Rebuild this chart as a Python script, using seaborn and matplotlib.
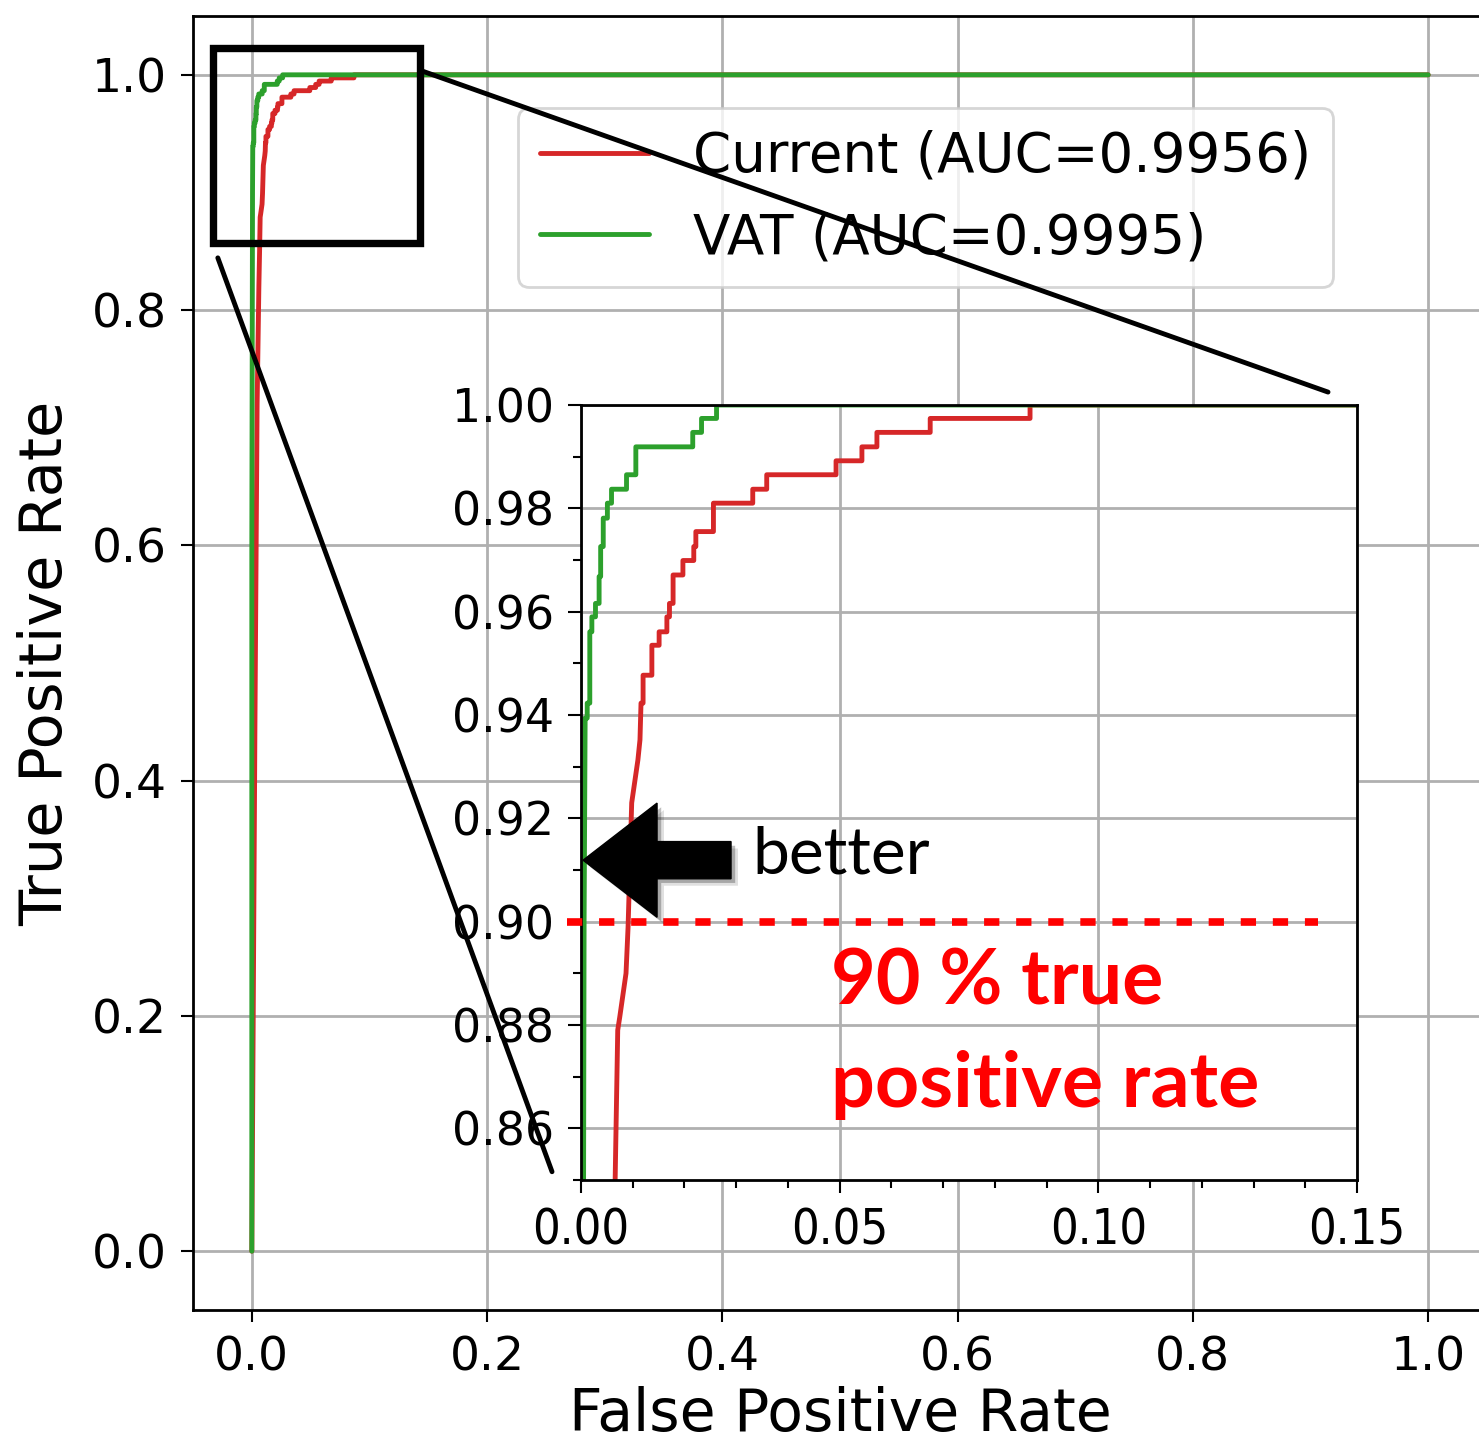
import numpy as np
import pandas as pd
import matplotlib
matplotlib.use("Agg")
import matplotlib.pyplot as plt
import seaborn as sns
from matplotlib.patches import Rectangle, FancyArrow, ConnectionPatch
from matplotlib.ticker import MultipleLocator
import matplotlib.patheffects as pe

# ---------------- data (ROC vertices) ----------------
current_fpr = [0.0, 0.0012, 0.0026, 0.0045, 0.0060, 0.0066, 0.0071, 0.0075, 0.0087, 0.0091,
               0.0098, 0.0110, 0.0114, 0.0116, 0.0120, 0.0120, 0.0137, 0.0137, 0.0151, 0.0151,
               0.0166, 0.0166, 0.0171, 0.0171, 0.0178, 0.0178, 0.0197, 0.0197, 0.0218, 0.0218,
               0.0222, 0.0222, 0.0256, 0.0256, 0.0332, 0.0332, 0.0359, 0.0359, 0.0493, 0.0493,
               0.0543, 0.0543, 0.0572, 0.0572, 0.0675, 0.0675, 0.0868, 0.0868, 1.0]
current_tpr = [0.0, 0.20, 0.44, 0.72, 0.82, 0.850, 0.879, 0.8816, 0.890, 0.899,
               0.923, 0.9313, 0.9352, 0.9423, 0.9423, 0.9477, 0.9477, 0.9535, 0.9535, 0.9561,
               0.9561, 0.9590, 0.9590, 0.9616, 0.9616, 0.9671, 0.9671, 0.9699, 0.9699, 0.9726,
               0.9726, 0.9755, 0.9755, 0.9810, 0.9810, 0.9837, 0.9837, 0.9865, 0.9865, 0.9892,
               0.9892, 0.9919, 0.9919, 0.9947, 0.9947, 0.9974, 0.9974, 1.0, 1.0]

vat_fpr = [0.0, 0.0, 0.0005, 0.0006, 0.0008, 0.0012, 0.0012, 0.0017, 0.0017, 0.0021,
           0.0021, 0.0028, 0.0028, 0.0035, 0.0035, 0.0038, 0.0038, 0.0043, 0.0043, 0.0051,
           0.0051, 0.0059, 0.0059, 0.0088, 0.0088, 0.0106, 0.0106, 0.0216, 0.0216, 0.0233,
           0.0233, 0.0262, 0.0262, 1.0]
vat_tpr = [0.0, 0.60, 0.850, 0.900, 0.9394, 0.9394, 0.9423, 0.9423, 0.9561, 0.9561,
           0.9590, 0.9590, 0.9616, 0.9616, 0.9668, 0.9668, 0.9726, 0.9726, 0.9781, 0.9781,
           0.9810, 0.9810, 0.9837, 0.9837, 0.9865, 0.9865, 0.9919, 0.9919, 0.9947, 0.9947,
           0.9974, 0.9974, 1.0, 1.0]

model_names = ["Current", "VAT"]
auc_values = [0.9956, 0.9995]
model_colors = ["#d62728", "#2ca02c"]
main_ticks = [0.0, 0.2, 0.4, 0.6, 0.8, 1.0]
inset_xticks = [0.00, 0.05, 0.10, 0.15]
inset_xlabels = ["0.00", "0.05", "0.10", "0.15"]
inset_yticks = [0.86, 0.88, 0.90, 0.92, 0.94, 0.96, 0.98, 1.00]
inset_ylabels = ["0.86", "0.88", "0.90", "0.92", "0.94", "0.96", "0.98", "1.00"]
threshold_tpr = 0.90

df = pd.concat([
    pd.DataFrame({"fpr": current_fpr, "tpr": current_tpr, "model": "Current"}),
    pd.DataFrame({"fpr": vat_fpr, "tpr": vat_tpr, "model": "VAT"}),
], ignore_index=True)

# ---------------- style ----------------
sns.set_theme(style="ticks")
plt.rcParams.update({
    "font.family": ["DejaVu Sans"],
    "text.color": "black",
    "axes.labelcolor": "black",
    "axes.edgecolor": "black",
    "axes.linewidth": 2.0,
    "grid.color": "#b0b0b0",
    "grid.linewidth": 2.0,
    "xtick.color": "black",
    "ytick.color": "black",
    "xtick.labelcolor": "black",
    "ytick.labelcolor": "black",
    "legend.labelcolor": "black",
    "xtick.direction": "out",
    "ytick.direction": "out",
})

W, H = 1479, 1445
fig = plt.figure(figsize=(W / 100, H / 100), dpi=100)
fig.patch.set_facecolor("white")

# ---------------- main axes ----------------
ax = fig.add_axes([193 / W, (H - 1310) / H, 1294 / W, 1294 / H])
sns.lineplot(data=df, x="fpr", y="tpr", hue="model", hue_order=model_names,
             palette=model_colors, estimator=None, sort=False, lw=3.5,
             legend=False, ax=ax)
ax.set_xlim(-0.05, 1.05)
ax.set_ylim(-0.05, 1.05)
ax.set_xticks(main_ticks)
ax.set_yticks(main_ticks)
ax.grid(True, zorder=0)
ax.set_axisbelow(True)
ax.tick_params(axis="both", labelsize=34, length=8.5, width=1.5, pad=10)
ax.set_xlabel("False Positive Rate", fontsize=42, labelpad=4, color="black")
ax.set_ylabel("True Positive Rate", fontsize=42.5, labelpad=13, color="black")

handles = ax.get_lines()[:2]
labels = [f"{n} (AUC={a:.4f})" for n, a in zip(model_names, auc_values)]
leg = ax.legend(handles, labels, loc="upper left", bbox_to_anchor=(0.2512, 0.9289),
                borderaxespad=0, fontsize=39.3, frameon=True, fancybox=True,
                framealpha=0.8, edgecolor="0.8")
leg.get_frame().set_linewidth(2.0)
for t in leg.get_texts():
    t.set_color("black")

# zoom rectangle on main axes
rect = Rectangle((-0.0326, 0.8571), 0.1752, 0.1656, fill=False, ec="black",
                 lw=5.3, clip_on=False, zorder=10)
ax.add_patch(rect)

# ---------------- inset axes ----------------
axin = fig.add_axes([581 / W, (H - 1180) / H, 776 / W, 775 / H])
axin.set_facecolor("white")
sns.lineplot(data=df, x="fpr", y="tpr", hue="model", hue_order=model_names,
             palette=model_colors, estimator=None, sort=False, lw=3.5,
             legend=False, ax=axin)
axin.set_xlim(0.0, 0.15)
axin.set_ylim(0.85, 1.00)
axin.set_xticks(inset_xticks, labels=inset_xlabels,
                fontfamily=["DejaVu Sans Condensed", "Liberation Sans Narrow", "DejaVu Sans"],
                fontstretch="condensed")
axin.set_yticks(inset_yticks, labels=inset_ylabels)
axin.xaxis.set_minor_locator(MultipleLocator(0.01))
axin.yaxis.set_minor_locator(MultipleLocator(0.01))
axin.grid(True, which="major")
axin.set_axisbelow(True)
axin.tick_params(axis="both", which="major", labelsize=33, length=9.4, width=1.5, pad=10)
axin.tick_params(axis="x", which="major", labelsize=35)
axin.tick_params(axis="both", which="minor", length=5.8, width=1.5)
axin.set_xlabel("")
axin.set_ylabel("")
for s in axin.spines.values():
    s.set_linewidth(2.0)

# 90 % threshold line
axin.plot([-0.0027, 0.1425], [threshold_tpr, threshold_tpr], color="#ff0000", lw=5.5,
          ls=(0, (2.0, 2.2)), clip_on=False, zorder=6)

# arrow with shadow
arrow = FancyArrow(0.0290, 0.9119, -0.0286, 0.0, width=0.0072, head_width=0.0221,
                   head_length=0.0143, length_includes_head=True, color="black",
                   clip_on=False, zorder=8)
arrow.set_path_effects([pe.SimplePatchShadow(offset=(3, -3), shadow_rgbFace="black", alpha=0.25),
                        pe.SimplePatchShadow(offset=(5, -5), shadow_rgbFace="black", alpha=0.12),
                        pe.Normal()])
axin.add_patch(arrow)

axin.text(0.0331, 0.9094, "better", fontfamily="Lato", fontsize=47.5, color="black",
          ha="left", va="baseline", clip_on=False, zorder=9)
axin.text(0.0483, 0.8839, "90 % true", fontfamily="Lato", fontweight="bold", fontsize=55.5,
          color="#ff0000", ha="left", va="baseline", clip_on=False, zorder=9)
axin.text(0.0483, 0.8641, "positive rate", fontfamily="Lato", fontweight="bold", fontsize=55.5,
          color="#ff0000", ha="left", va="baseline", clip_on=False, zorder=9)

# connector lines from zoom box to inset
con1 = ConnectionPatch(xyA=(0.1426, 1.004), coordsA=ax.transData,
                       xyB=(0.1444, 1.0025), coordsB=axin.transData,
                       color="black", lw=3.5, zorder=12)
con2 = ConnectionPatch(xyA=(-0.0289, 0.8444), coordsA=ax.transData,
                       xyB=(-0.0056, 0.8516), coordsB=axin.transData,
                       color="black", lw=3.5, zorder=12)
fig.add_artist(con1)
fig.add_artist(con2)

fig.savefig("out.png", dpi=100, facecolor="white")
